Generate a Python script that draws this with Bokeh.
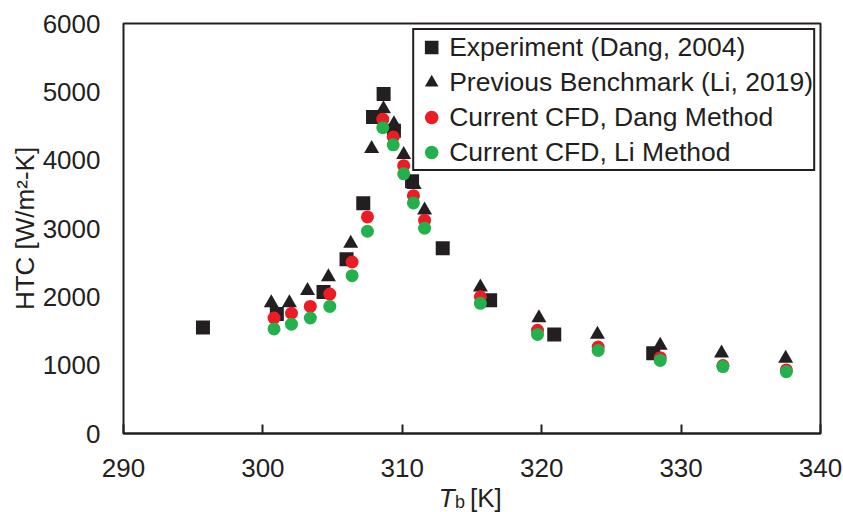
from bokeh.plotting import figure
from bokeh.layouts import column
from bokeh.models import Range1d, Legend, LegendItem, FixedTicker
from bokeh.core.properties import value
from bokeh.embed import file_html
from bokeh.resources import INLINE

# ---- data ----
exp_T = [295.7, 301.0, 304.35, 306.0, 307.2, 307.9, 308.66, 309.4, 310.7, 312.9, 316.3, 320.9, 328.0]
exp_htc = [1550, 1750, 2070, 2550, 3370, 4630, 4970, 4430, 3690, 2710, 1950, 1450, 1175]

bench_T = [300.6, 301.9, 303.2, 304.7, 306.3, 307.8, 308.65, 309.4, 310.1, 310.85, 311.6, 315.6, 319.8, 324.0, 328.5, 332.9, 337.5]
bench_htc = [1910, 1910, 2090, 2290, 2780, 4170, 4750, 4530, 4080, 3640, 3270, 2140, 1690, 1450, 1290, 1175, 1100]

cfd_T = [300.8, 302.05, 303.4, 304.8, 306.4, 307.5, 308.6, 309.35, 310.1, 310.8, 311.6, 315.6, 319.7, 324.05, 328.5, 333.0, 337.55]
dang_htc = [1690, 1760, 1860, 2040, 2510, 3170, 4600, 4340, 3920, 3480, 3120, 2000, 1510, 1265, 1110, 995, 930]
li_htc = [1530, 1600, 1690, 1860, 2310, 2960, 4475, 4225, 3800, 3375, 3005, 1905, 1450, 1215, 1070, 980, 905]

x_ticks = [290, 300, 310, 320, 330, 340]
y_ticks = [0, 1000, 2000, 3000, 4000, 5000, 6000]

labels = ["Experiment (Dang, 2004)", "Previous Benchmark (Li, 2019)",
          "Current CFD, Dang Method", "Current CFD, Li Method"]
y_title = "HTC [W/m²-K]"
x_title_parts = ["T", "b", "[K]"]

DARK = "#231f20"
RED = "#ed1c24"
GREEN = "#22b14c"
FONT = "Liberation Sans"

p = figure(width=843, height=482, output_backend="svg", toolbar_location=None,
           x_range=Range1d(290, 340), y_range=Range1d(0, 6000),
           min_border_left=123, min_border_right=23, min_border_top=23, min_border_bottom=49)

p.xgrid.grid_line_color = None
p.ygrid.grid_line_color = None
p.outline_line_color = DARK
p.outline_line_width = 2
p.outline_line_alpha = 1.0
p.background_fill_color = "white"
p.border_fill_color = "white"

xa = p.xaxis[0]
xa.ticker = FixedTicker(ticks=x_ticks)
xa.major_tick_in = 9
xa.major_tick_out = 0
xa.minor_tick_line_color = None
xa.major_tick_line_color = DARK
xa.major_tick_line_width = 2
xa.axis_line_color = DARK
xa.axis_line_width = 2
xa.major_label_text_font = FONT
xa.major_label_text_font_size = "26px"
xa.major_label_text_color = DARK
xa.major_label_standoff = 25

ya = p.yaxis[0]
ya.ticker = FixedTicker(ticks=y_ticks)
ya.major_tick_in = 0
ya.major_tick_out = 0
ya.minor_tick_line_color = None
ya.major_tick_line_color = None
ya.axis_line_color = None
ya.major_label_text_font = FONT
ya.major_label_text_font_size = "26px"
ya.major_label_text_color = DARK
ya.major_label_standoff = 23
ya.axis_label = y_title
ya.axis_label_text_font = FONT
ya.axis_label_text_font_size = "26px"
ya.axis_label_text_font_style = "normal"
ya.axis_label_text_color = DARK
ya.axis_label_standoff = 0

r_exp = p.scatter(exp_T, exp_htc, marker="square", size=14, fill_color=DARK, line_color=None)
r_bench = p.scatter(bench_T, bench_htc, marker="triangle", size=15, fill_color=DARK, line_color=None)
r_dang = p.scatter(cfd_T, dang_htc, marker="circle", size=13, fill_color=RED, line_color=None)
r_li = p.scatter(cfd_T, li_htc, marker="circle", size=13, fill_color=GREEN, line_color=None)

legend = Legend(items=[LegendItem(label=labels[0], renderers=[r_exp]),
                       LegendItem(label=labels[1], renderers=[r_bench]),
                       LegendItem(label=labels[2], renderers=[r_dang]),
                       LegendItem(label=labels[3], renderers=[r_li])],
                location="top_right")
legend.label_text_font = FONT
legend.label_text_font_size = "26.5px"
legend.label_text_color = DARK
legend.border_line_color = DARK
legend.border_line_width = 2
legend.border_line_alpha = 1.0
legend.background_fill_alpha = 1.0
legend.margin = 5
legend.padding = 0
legend.spacing = 1
legend.glyph_width = 34
legend.glyph_height = 34
legend.label_height = 34
legend.label_standoff = 1
p.add_layout(legend)

# strip below the chart holding the x-axis title (italic T with subscript b)
q = figure(width=843, height=30, output_backend="svg", toolbar_location=None,
           x_range=Range1d(290, 340), y_range=Range1d(0, 30),
           x_axis_type=None, y_axis_type=None,
           min_border_left=123, min_border_right=23, min_border_top=0, min_border_bottom=0)
q.xgrid.grid_line_color = None
q.ygrid.grid_line_color = None
q.outline_line_color = None
q.background_fill_color = "white"
q.border_fill_color = "white"

q.text(x=[313.75], y=[15], text=[x_title_parts[0]], text_align="right", text_baseline="middle",
       text_font=value(FONT), text_font_size="26px", text_font_style="italic", text_color=DARK)
q.text(x=[313.78], y=[11], text=[x_title_parts[1]], text_align="left", text_baseline="middle",
       text_font=value(FONT), text_font_size="18px", text_color=DARK)
q.text(x=[314.86], y=[15], text=[x_title_parts[2]], text_align="left", text_baseline="middle",
       text_font=value(FONT), text_font_size="26px", text_color=DARK)

layout = column(p, q, spacing=0)
open("out.html", "w").write(file_html(layout, INLINE))
